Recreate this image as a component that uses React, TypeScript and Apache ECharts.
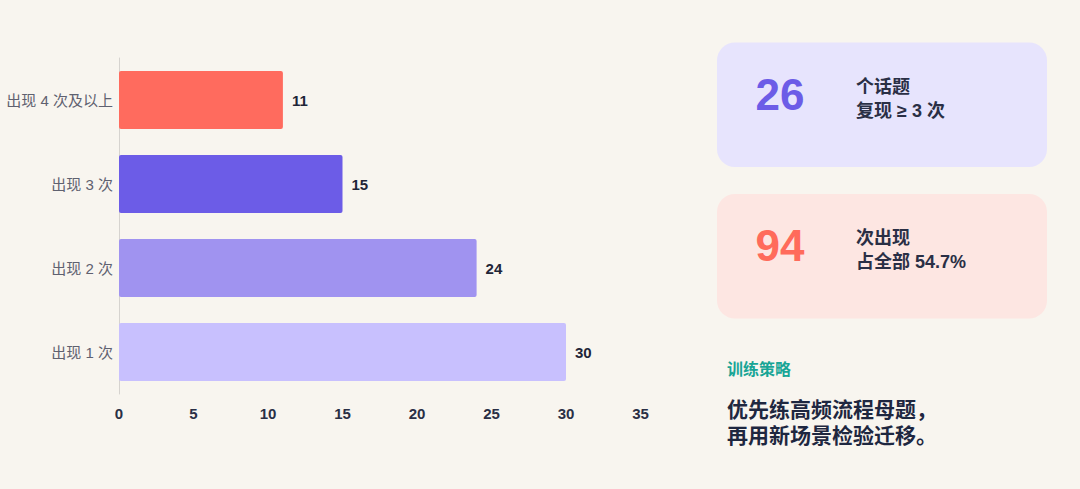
import React, { useEffect, useRef } from "react";
import * as echarts from "echarts";

const categories = ["出现 1 次", "出现 2 次", "出现 3 次", "出现 4 次及以上"];
const counts = [30, 24, 15, 11];
const barColors = ["#c8c0fe", "#a093f0", "#6c5ce7", "#ff6b5e"];
const xTicks = { min: 0, max: 35, interval: 5 };

const card1 = { big: "26", line1: "个话题", line2: "复现 ≥ 3 次" };
const card2 = { big: "94", line1: "次出现", line2: "占全部 54.7%" };
const strategyTitle = "训练策略";
const strategyLines = ["优先练高频流程母题，", "再用新场景检验迁移。"];

const FONT = "'Liberation Sans', 'Noto Sans CJK SC', sans-serif";

export default function App() {
  const ref = useRef<HTMLDivElement>(null);
  useEffect(() => {
    document.body.style.margin = "0";
    const chart = echarts.init(ref.current!, null, { renderer: "svg" });
    const option: any = {
      animation: false,
      backgroundColor: "#f8f5ef",
      textStyle: { fontFamily: FONT },
      grid: { left: 119, top: 58, right: 439.5, bottom: 95 },
      xAxis: {
        type: "value",
        min: xTicks.min,
        max: xTicks.max,
        interval: xTicks.interval,
        splitLine: { show: false },
        axisLine: { show: false },
        axisTick: { show: false },
        axisLabel: {
          color: "#2a2f45",
          fontSize: 15,
          fontWeight: "bold",
          margin: 12,
          fontFamily: FONT,
        },
      },
      yAxis: {
        type: "category",
        data: categories,
        axisLine: { show: true, lineStyle: { color: "#d6d3cf", width: 1 } },
        axisTick: { show: false },
        axisLabel: {
          color: "#5f6170",
          fontSize: 15,
          margin: 6,
          fontFamily: FONT,
        },
      },
      series: [
        {
          type: "bar",
          barWidth: 58,
          data: counts.map((v, i) => ({
            value: v,
            itemStyle: { color: barColors[i], borderRadius: 2 },
          })),
          label: {
            show: true,
            position: "right",
            distance: 9,
            color: "#1f2537",
            fontSize: 15,
            fontWeight: "bold",
            fontFamily: FONT,
          },
        },
      ],
      graphic: [
        {
          type: "rect",
          shape: { x: 717, y: 42.5, width: 330, height: 124.5, r: 18 },
          style: { fill: "#e7e4fd" },
        },
        {
          type: "text",
          x: 780,
          y: 94.5,
          style: {
            text: card1.big,
            fill: "#6c5ce7",
            font: `bold 44px ${FONT}`,
            align: "center",
            verticalAlign: "middle",
          },
        },
        {
          type: "text",
          x: 856,
          y: 87,
          style: {
            text: card1.line1,
            fill: "#2a2f45",
            font: `bold 18px ${FONT}`,
            verticalAlign: "middle",
          },
        },
        {
          type: "text",
          x: 856,
          y: 111,
          style: {
            text: card1.line2,
            fill: "#2a2f45",
            font: `bold 18px ${FONT}`,
            verticalAlign: "middle",
          },
        },
        {
          type: "rect",
          shape: { x: 717, y: 194, width: 330, height: 124.5, r: 18 },
          style: { fill: "#fde6e2" },
        },
        {
          type: "text",
          x: 780,
          y: 245.5,
          style: {
            text: card2.big,
            fill: "#ff6b5b",
            font: `bold 44px ${FONT}`,
            align: "center",
            verticalAlign: "middle",
          },
        },
        {
          type: "text",
          x: 856,
          y: 238,
          style: {
            text: card2.line1,
            fill: "#2a2f45",
            font: `bold 18px ${FONT}`,
            verticalAlign: "middle",
          },
        },
        {
          type: "text",
          x: 856,
          y: 262,
          style: {
            text: card2.line2,
            fill: "#2a2f45",
            font: `bold 18px ${FONT}`,
            verticalAlign: "middle",
          },
        },
        {
          type: "text",
          x: 727,
          y: 369,
          style: {
            text: strategyTitle,
            fill: "#18a596",
            font: `bold 16px ${FONT}`,
            verticalAlign: "middle",
          },
        },
        {
          type: "text",
          x: 727,
          y: 409,
          style: {
            text: strategyLines[0],
            fill: "#1e2740",
            font: `bold 21px ${FONT}`,
            verticalAlign: "middle",
          },
        },
        {
          type: "text",
          x: 727,
          y: 435,
          style: {
            text: strategyLines[1],
            fill: "#1e2740",
            font: `bold 21px ${FONT}`,
            verticalAlign: "middle",
          },
        },
      ],
    };
    chart.setOption(option);
    return () => chart.dispose();
  }, []);
  return <div ref={ref} style={{ width: 1080, height: 489 }} />;
}
